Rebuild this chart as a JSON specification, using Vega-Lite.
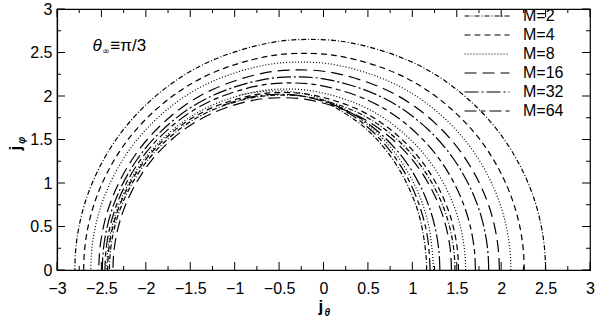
{
 "$schema": "https://vega.github.io/schema/vega-lite/v6.json",
 "width": 533, "height": 261,
 "autosize": {"type": "none"},
 "padding": {"left": 57, "top": 9, "right": 12, "bottom": 52},
 "background": "white",
 "config": {
  "view": {"stroke": "black", "strokeWidth": 1.2},
  "font": "Liberation Sans",
  "axis": {"grid": false, "domainColor": "black", "domainWidth": 1.2, "labelColor": "black", "labelFontSize": 16, "labelFont": "Liberation Sans", "labelFlush": false}
 },
 "datasets": {
  "xt": [{"v":-3},{"v":-2.75},{"v":-2.5},{"v":-2.25},{"v":-2},{"v":-1.75},{"v":-1.5},{"v":-1.25},{"v":-1},{"v":-0.75},{"v":-0.5},{"v":-0.25},{"v":0},{"v":0.25},{"v":0.5},{"v":0.75},{"v":1},{"v":1.25},{"v":1.5},{"v":1.75},{"v":2},{"v":2.25},{"v":2.5},{"v":2.75},{"v":3}],
  "yt": [{"v":0},{"v":0.25},{"v":0.5},{"v":0.75},{"v":1},{"v":1.25},{"v":1.5},{"v":1.75},{"v":2},{"v":2.25},{"v":2.5},{"v":2.75},{"v":3}],
  "curves": [
   {"c":"O1","M":"M=2","i":0,"x":2.5,"y":0},{"c":"O1","M":"M=2","i":1,"x":2.474,"y":0.369},{"c":"O1","M":"M=2","i":2,"x":2.34,"y":0.906},{"c":"O1","M":"M=2","i":3,"x":2.021,"y":1.52},{"c":"O1","M":"M=2","i":4,"x":1.553,"y":2.03},{"c":"O1","M":"M=2","i":5,"x":0.97,"y":2.402},{"c":"O1","M":"M=2","i":6,"x":0.31,"y":2.61},{"c":"O1","M":"M=2","i":7,"x":-0.15,"y":2.65},{"c":"O1","M":"M=2","i":8,"x":-0.61,"y":2.61},{"c":"O1","M":"M=2","i":9,"x":-1.27,"y":2.402},{"c":"O1","M":"M=2","i":10,"x":-1.853,"y":2.03},{"c":"O1","M":"M=2","i":11,"x":-2.321,"y":1.52},{"c":"O1","M":"M=2","i":12,"x":-2.64,"y":0.906},{"c":"O1","M":"M=2","i":13,"x":-2.774,"y":0.369},{"c":"O1","M":"M=2","i":14,"x":-2.8,"y":0},
   {"c":"O2","M":"M=4","i":0,"x":2.26,"y":0},{"c":"O2","M":"M=4","i":1,"x":2.236,"y":0.347},{"c":"O2","M":"M=4","i":2,"x":2.11,"y":0.852},{"c":"O2","M":"M=4","i":3,"x":1.812,"y":1.428},{"c":"O2","M":"M=4","i":4,"x":1.374,"y":1.907},{"c":"O2","M":"M=4","i":5,"x":0.828,"y":2.257},{"c":"O2","M":"M=4","i":6,"x":0.211,"y":2.452},{"c":"O2","M":"M=4","i":7,"x":-0.22,"y":2.49},{"c":"O2","M":"M=4","i":8,"x":-0.651,"y":2.452},{"c":"O2","M":"M=4","i":9,"x":-1.268,"y":2.257},{"c":"O2","M":"M=4","i":10,"x":-1.814,"y":1.907},{"c":"O2","M":"M=4","i":11,"x":-2.252,"y":1.428},{"c":"O2","M":"M=4","i":12,"x":-2.55,"y":0.852},{"c":"O2","M":"M=4","i":13,"x":-2.676,"y":0.347},{"c":"O2","M":"M=4","i":14,"x":-2.7,"y":0},
   {"c":"O3","M":"M=8","i":0,"x":2.11,"y":0},{"c":"O3","M":"M=8","i":1,"x":2.087,"y":0.333},{"c":"O3","M":"M=8","i":2,"x":1.967,"y":0.817},{"c":"O3","M":"M=8","i":3,"x":1.682,"y":1.371},{"c":"O3","M":"M=8","i":4,"x":1.265,"y":1.831},{"c":"O3","M":"M=8","i":5,"x":0.744,"y":2.166},{"c":"O3","M":"M=8","i":6,"x":0.156,"y":2.354},{"c":"O3","M":"M=8","i":7,"x":-0.255,"y":2.39},{"c":"O3","M":"M=8","i":8,"x":-0.666,"y":2.354},{"c":"O3","M":"M=8","i":9,"x":-1.254,"y":2.166},{"c":"O3","M":"M=8","i":10,"x":-1.775,"y":1.831},{"c":"O3","M":"M=8","i":11,"x":-2.192,"y":1.371},{"c":"O3","M":"M=8","i":12,"x":-2.477,"y":0.817},{"c":"O3","M":"M=8","i":13,"x":-2.597,"y":0.333},{"c":"O3","M":"M=8","i":14,"x":-2.62,"y":0},
   {"c":"O4","M":"M=16","i":0,"x":1.98,"y":0},{"c":"O4","M":"M=16","i":1,"x":1.958,"y":0.32},{"c":"O4","M":"M=16","i":2,"x":1.844,"y":0.787},{"c":"O4","M":"M=16","i":3,"x":1.572,"y":1.319},{"c":"O4","M":"M=16","i":4,"x":1.175,"y":1.762},{"c":"O4","M":"M=16","i":5,"x":0.678,"y":2.084},{"c":"O4","M":"M=16","i":6,"x":0.116,"y":2.265},{"c":"O4","M":"M=16","i":7,"x":-0.275,"y":2.3},{"c":"O4","M":"M=16","i":8,"x":-0.666,"y":2.265},{"c":"O4","M":"M=16","i":9,"x":-1.228,"y":2.084},{"c":"O4","M":"M=16","i":10,"x":-1.725,"y":1.762},{"c":"O4","M":"M=16","i":11,"x":-2.122,"y":1.319},{"c":"O4","M":"M=16","i":12,"x":-2.394,"y":0.787},{"c":"O4","M":"M=16","i":13,"x":-2.508,"y":0.32},{"c":"O4","M":"M=16","i":14,"x":-2.53,"y":0},
   {"c":"O5","M":"M=32","i":0,"x":1.86,"y":0},{"c":"O5","M":"M=32","i":1,"x":1.839,"y":0.309},{"c":"O5","M":"M=32","i":2,"x":1.729,"y":0.759},{"c":"O5","M":"M=32","i":3,"x":1.467,"y":1.273},{"c":"O5","M":"M=32","i":4,"x":1.083,"y":1.701},{"c":"O5","M":"M=32","i":5,"x":0.604,"y":2.012},{"c":"O5","M":"M=32","i":6,"x":0.063,"y":2.186},{"c":"O5","M":"M=32","i":7,"x":-0.315,"y":2.22},{"c":"O5","M":"M=32","i":8,"x":-0.693,"y":2.186},{"c":"O5","M":"M=32","i":9,"x":-1.234,"y":2.012},{"c":"O5","M":"M=32","i":10,"x":-1.713,"y":1.701},{"c":"O5","M":"M=32","i":11,"x":-2.097,"y":1.273},{"c":"O5","M":"M=32","i":12,"x":-2.359,"y":0.759},{"c":"O5","M":"M=32","i":13,"x":-2.469,"y":0.309},{"c":"O5","M":"M=32","i":14,"x":-2.49,"y":0},
   {"c":"O6","M":"M=64","i":0,"x":1.71,"y":0},{"c":"O6","M":"M=64","i":1,"x":1.69,"y":0.299},{"c":"O6","M":"M=64","i":2,"x":1.584,"y":0.735},{"c":"O6","M":"M=64","i":3,"x":1.333,"y":1.233},{"c":"O6","M":"M=64","i":4,"x":0.965,"y":1.647},{"c":"O6","M":"M=64","i":5,"x":0.506,"y":1.949},{"c":"O6","M":"M=64","i":6,"x":-0.013,"y":2.117},{"c":"O6","M":"M=64","i":7,"x":-0.375,"y":2.15},{"c":"O6","M":"M=64","i":8,"x":-0.737,"y":2.117},{"c":"O6","M":"M=64","i":9,"x":-1.256,"y":1.949},{"c":"O6","M":"M=64","i":10,"x":-1.715,"y":1.647},{"c":"O6","M":"M=64","i":11,"x":-2.083,"y":1.233},{"c":"O6","M":"M=64","i":12,"x":-2.334,"y":0.735},{"c":"O6","M":"M=64","i":13,"x":-2.44,"y":0.299},{"c":"O6","M":"M=64","i":14,"x":-2.46,"y":0},
   {"c":"I1","M":"M=8","i":0,"x":1.6,"y":0},{"c":"I1","M":"M=8","i":1,"x":1.58,"y":0.29},{"c":"I1","M":"M=8","i":2,"x":1.478,"y":0.711},{"c":"I1","M":"M=8","i":3,"x":1.235,"y":1.193},{"c":"I1","M":"M=8","i":4,"x":0.878,"y":1.593},{"c":"I1","M":"M=8","i":5,"x":0.434,"y":1.885},{"c":"I1","M":"M=8","i":6,"x":-0.069,"y":2.048},{"c":"I1","M":"M=8","i":7,"x":-0.42,"y":2.08},{"c":"I1","M":"M=8","i":8,"x":-0.771,"y":2.048},{"c":"I1","M":"M=8","i":9,"x":-1.274,"y":1.885},{"c":"I1","M":"M=8","i":10,"x":-1.718,"y":1.593},{"c":"I1","M":"M=8","i":11,"x":-2.075,"y":1.193},{"c":"I1","M":"M=8","i":12,"x":-2.318,"y":0.711},{"c":"I1","M":"M=8","i":13,"x":-2.42,"y":0.29},{"c":"I1","M":"M=8","i":14,"x":-2.44,"y":0},
   {"c":"I2","M":"M=4","i":0,"x":1.52,"y":0},{"c":"I2","M":"M=4","i":1,"x":1.501,"y":0.284},{"c":"I2","M":"M=4","i":2,"x":1.401,"y":0.698},{"c":"I2","M":"M=4","i":3,"x":1.163,"y":1.17},{"c":"I2","M":"M=4","i":4,"x":0.815,"y":1.563},{"c":"I2","M":"M=4","i":5,"x":0.38,"y":1.849},{"c":"I2","M":"M=4","i":6,"x":-0.112,"y":2.009},{"c":"I2","M":"M=4","i":7,"x":-0.455,"y":2.04},{"c":"I2","M":"M=4","i":8,"x":-0.798,"y":2.009},{"c":"I2","M":"M=4","i":9,"x":-1.29,"y":1.849},{"c":"I2","M":"M=4","i":10,"x":-1.725,"y":1.563},{"c":"I2","M":"M=4","i":11,"x":-2.073,"y":1.17},{"c":"I2","M":"M=4","i":12,"x":-2.311,"y":0.698},{"c":"I2","M":"M=4","i":13,"x":-2.411,"y":0.284},{"c":"I2","M":"M=4","i":14,"x":-2.43,"y":0},
   {"c":"I3","M":"M=2","i":0,"x":1.48,"y":0},{"c":"I3","M":"M=2","i":1,"x":1.461,"y":0.28},{"c":"I3","M":"M=2","i":2,"x":1.363,"y":0.687},{"c":"I3","M":"M=2","i":3,"x":1.128,"y":1.153},{"c":"I3","M":"M=2","i":4,"x":0.785,"y":1.54},{"c":"I3","M":"M=2","i":5,"x":0.357,"y":1.822},{"c":"I3","M":"M=2","i":6,"x":-0.127,"y":1.979},{"c":"I3","M":"M=2","i":7,"x":-0.465,"y":2.01},{"c":"I3","M":"M=2","i":8,"x":-0.803,"y":1.979},{"c":"I3","M":"M=2","i":9,"x":-1.287,"y":1.822},{"c":"I3","M":"M=2","i":10,"x":-1.715,"y":1.54},{"c":"I3","M":"M=2","i":11,"x":-2.058,"y":1.153},{"c":"I3","M":"M=2","i":12,"x":-2.293,"y":0.687},{"c":"I3","M":"M=2","i":13,"x":-2.391,"y":0.28},{"c":"I3","M":"M=2","i":14,"x":-2.41,"y":0},
   {"c":"I4","M":"M=16","i":0,"x":1.44,"y":0},{"c":"I4","M":"M=16","i":1,"x":1.422,"y":0.276},{"c":"I4","M":"M=16","i":2,"x":1.325,"y":0.677},{"c":"I4","M":"M=16","i":3,"x":1.096,"y":1.136},{"c":"I4","M":"M=16","i":4,"x":0.76,"y":1.517},{"c":"I4","M":"M=16","i":5,"x":0.34,"y":1.794},{"c":"I4","M":"M=16","i":6,"x":-0.134,"y":1.95},{"c":"I4","M":"M=16","i":7,"x":-0.465,"y":1.98},{"c":"I4","M":"M=16","i":8,"x":-0.796,"y":1.95},{"c":"I4","M":"M=16","i":9,"x":-1.27,"y":1.794},{"c":"I4","M":"M=16","i":10,"x":-1.69,"y":1.517},{"c":"I4","M":"M=16","i":11,"x":-2.026,"y":1.136},{"c":"I4","M":"M=16","i":12,"x":-2.255,"y":0.677},{"c":"I4","M":"M=16","i":13,"x":-2.352,"y":0.276},{"c":"I4","M":"M=16","i":14,"x":-2.37,"y":0},
   {"c":"P1","M":"M=32","i":0,"x":1.31,"y":0},{"c":"P1","M":"M=32","i":1,"x":1.292,"y":0.281},{"c":"P1","M":"M=32","i":2,"x":1.201,"y":0.691},{"c":"P1","M":"M=32","i":3,"x":0.983,"y":1.159},{"c":"P1","M":"M=32","i":4,"x":0.663,"y":1.547},{"c":"P1","M":"M=32","i":5,"x":0.265,"y":1.831},{"c":"P1","M":"M=32","i":6,"x":-0.186,"y":1.989},{"c":"P1","M":"M=32","i":7,"x":-0.5,"y":2.02},{"c":"P1","M":"M=32","i":8,"x":-0.814,"y":1.989},{"c":"P1","M":"M=32","i":9,"x":-1.14,"y":1.89},
   {"c":"P2","M":"M=8","i":0,"x":1.24,"y":0},{"c":"P2","M":"M=8","i":1,"x":1.179,"y":0.533},{"c":"P2","M":"M=8","i":2,"x":1.0,"y":1.03},{"c":"P2","M":"M=8","i":3,"x":0.716,"y":1.457},{"c":"P2","M":"M=8","i":4,"x":0.345,"y":1.784},{"c":"P2","M":"M=8","i":5,"x":-0.087,"y":1.99},{"c":"P2","M":"M=8","i":6,"x":-0.55,"y":2.06},{"c":"P2","M":"M=8","i":7,"x":-0.95,"y":2.008},
   {"c":"P3","M":"M=64","i":0,"x":1.2,"y":0},{"c":"P3","M":"M=64","i":1,"x":1.173,"y":0.359},{"c":"P3","M":"M=64","i":2,"x":1.091,"y":0.708},{"c":"P3","M":"M=64","i":3,"x":0.959,"y":1.035},{"c":"P3","M":"M=64","i":4,"x":0.779,"y":1.331},{"c":"P3","M":"M=64","i":5,"x":0.557,"y":1.586},{"c":"P3","M":"M=64","i":6,"x":0.3,"y":1.793},{"c":"P3","M":"M=64","i":7,"x":0.04,"y":1.934},
   {"c":"P4","M":"M=2","i":0,"x":1.16,"y":0},{"c":"P4","M":"M=2","i":1,"x":1.153,"y":0.18},{"c":"P4","M":"M=2","i":2,"x":1.099,"y":0.536},{"c":"P4","M":"M=2","i":3,"x":0.991,"y":0.875},{"c":"P4","M":"M=2","i":4,"x":0.834,"y":1.187},{"c":"P4","M":"M=2","i":5,"x":0.633,"y":1.464},{"c":"P4","M":"M=2","i":6,"x":0.392,"y":1.696},{"c":"P4","M":"M=2","i":7,"x":0.1,"y":1.887}
  ]
 },
 "layer": [
  {
   "data": {"name": "curves"},
   "mark": {"type": "line", "interpolate": "natural", "strokeWidth": 1.2, "color": "black"},
   "encoding": {
    "x": {"field": "x", "type": "quantitative", "scale": {"domain": [-3, 3], "nice": false},
     "axis": {"orient": "bottom", "title": null, "format": "~g", "ticks": false, "tickSize": 0,
      "values": [-3,-2.5,-2,-1.5,-1,-0.5,0,0.5,1,1.5,2,2.5,3],
      "labelPadding": 10, "labelBaseline": "top"}},
    "y": {"field": "y", "type": "quantitative", "scale": {"domain": [0, 3], "nice": false},
     "axis": {"orient": "left", "title": null, "format": "~g", "ticks": false, "tickSize": 0,
      "values": [0,0.5,1,1.5,2,2.5,3],
      "labelPadding": 5}},
    "detail": {"field": "c", "type": "nominal"},
    "order": {"field": "i", "type": "quantitative"},
    "strokeDash": {"field": "M", "type": "nominal",
     "scale": {"domain": ["M=2","M=4","M=8","M=16","M=32","M=64"],
      "range": [[5,2,1,2],[6,4],[1,2],[12,6],[14,3,2,3],[12,4,5,4]]},
     "legend": {"orient": "none", "legendX": 422, "legendY": -1, "title": null,
      "symbolType": "M-4.5,0H4.5", "symbolSize": 100, "symbolStrokeWidth": 1.2, "symbolStrokeColor": "black",
      "labelFontSize": 16, "labelFont": "Liberation Sans", "labelColor": "black", "labelOffset": 28, "rowPadding": 3, "padding": 0}}
   }
  },
  {
   "data": {"name": "xt"},
   "transform": [{"filter": "abs(datum.v*2 - round(datum.v*2)) < 0.001"}],
   "mark": {"type": "tick", "orient": "vertical", "size": 8, "thickness": 1, "yOffset": -4, "color": "black", "opacity": 1},
   "encoding": {
    "x": {"field": "v", "type": "quantitative", "title": null, "scale": {"domain": [-3, 3], "nice": false}},
    "y": {"datum": 0, "type": "quantitative", "title": null, "scale": {"domain": [0, 3], "nice": false}}
   }
  },
  {
   "data": {"name": "xt"},
   "transform": [{"filter": "abs(datum.v*2 - round(datum.v*2)) >= 0.001"}],
   "mark": {"type": "tick", "orient": "vertical", "size": 4, "thickness": 1, "yOffset": -2, "color": "black", "opacity": 1},
   "encoding": {
    "x": {"field": "v", "type": "quantitative", "title": null, "scale": {"domain": [-3, 3], "nice": false}},
    "y": {"datum": 0, "type": "quantitative", "title": null, "scale": {"domain": [0, 3], "nice": false}}
   }
  },
  {
   "data": {"name": "xt"},
   "transform": [{"filter": "abs(datum.v*2 - round(datum.v*2)) < 0.001"}],
   "mark": {"type": "tick", "orient": "vertical", "size": 8, "thickness": 1, "yOffset": 4, "color": "black", "opacity": 1},
   "encoding": {
    "x": {"field": "v", "type": "quantitative", "title": null, "scale": {"domain": [-3, 3], "nice": false}},
    "y": {"datum": 3, "type": "quantitative", "title": null, "scale": {"domain": [0, 3], "nice": false}}
   }
  },
  {
   "data": {"name": "xt"},
   "transform": [{"filter": "abs(datum.v*2 - round(datum.v*2)) >= 0.001"}],
   "mark": {"type": "tick", "orient": "vertical", "size": 4, "thickness": 1, "yOffset": 2, "color": "black", "opacity": 1},
   "encoding": {
    "x": {"field": "v", "type": "quantitative", "title": null, "scale": {"domain": [-3, 3], "nice": false}},
    "y": {"datum": 3, "type": "quantitative", "title": null, "scale": {"domain": [0, 3], "nice": false}}
   }
  },
  {
   "data": {"name": "yt"},
   "transform": [{"filter": "abs(datum.v*2 - round(datum.v*2)) < 0.001"}],
   "mark": {"type": "tick", "orient": "horizontal", "size": 8, "thickness": 1, "xOffset": 4, "color": "black", "opacity": 1},
   "encoding": {
    "y": {"field": "v", "type": "quantitative", "title": null, "scale": {"domain": [0, 3], "nice": false}},
    "x": {"datum": -3, "type": "quantitative", "title": null, "scale": {"domain": [-3, 3], "nice": false}}
   }
  },
  {
   "data": {"name": "yt"},
   "transform": [{"filter": "abs(datum.v*2 - round(datum.v*2)) >= 0.001"}],
   "mark": {"type": "tick", "orient": "horizontal", "size": 4, "thickness": 1, "xOffset": 2, "color": "black", "opacity": 1},
   "encoding": {
    "y": {"field": "v", "type": "quantitative", "title": null, "scale": {"domain": [0, 3], "nice": false}},
    "x": {"datum": -3, "type": "quantitative", "title": null, "scale": {"domain": [-3, 3], "nice": false}}
   }
  },
  {
   "data": {"name": "yt"},
   "transform": [{"filter": "abs(datum.v*2 - round(datum.v*2)) < 0.001"}],
   "mark": {"type": "tick", "orient": "horizontal", "size": 8, "thickness": 1, "xOffset": -4, "color": "black", "opacity": 1},
   "encoding": {
    "y": {"field": "v", "type": "quantitative", "title": null, "scale": {"domain": [0, 3], "nice": false}},
    "x": {"datum": 3, "type": "quantitative", "title": null, "scale": {"domain": [-3, 3], "nice": false}}
   }
  },
  {
   "data": {"name": "yt"},
   "transform": [{"filter": "abs(datum.v*2 - round(datum.v*2)) >= 0.001"}],
   "mark": {"type": "tick", "orient": "horizontal", "size": 4, "thickness": 1, "xOffset": -2, "color": "black", "opacity": 1},
   "encoding": {
    "y": {"field": "v", "type": "quantitative", "title": null, "scale": {"domain": [0, 3], "nice": false}},
    "x": {"datum": 3, "type": "quantitative", "title": null, "scale": {"domain": [-3, 3], "nice": false}}
   }
  },
  {
   "data": {"values": [{}]},
   "mark": {"type": "text", "text": "θ", "fontSize": 17, "fontStyle": "italic", "align": "left", "baseline": "alphabetic", "font": "Liberation Sans"},
   "encoding": {
    "x": {"datum": -2.6, "type": "quantitative", "title": null, "scale": {"domain": [-3, 3], "nice": false}},
    "y": {"datum": 2.517, "type": "quantitative", "title": null, "scale": {"domain": [0, 3], "nice": false}}
   }
  },
  {
   "data": {"values": [{}]},
   "mark": {"type": "text", "text": "∞", "fontSize": 9, "align": "left", "baseline": "alphabetic", "font": "DejaVu Sans"},
   "encoding": {
    "x": {"datum": -2.49, "type": "quantitative", "title": null, "scale": {"domain": [-3, 3], "nice": false}},
    "y": {"datum": 2.48, "type": "quantitative", "title": null, "scale": {"domain": [0, 3], "nice": false}}
   }
  },
  {
   "data": {"values": [{}]},
   "mark": {"type": "text", "text": "≡π/3", "fontSize": 17, "align": "left", "baseline": "alphabetic", "font": "Liberation Sans"},
   "encoding": {
    "x": {"datum": -2.4, "type": "quantitative", "title": null, "scale": {"domain": [-3, 3], "nice": false}},
    "y": {"datum": 2.517, "type": "quantitative", "title": null, "scale": {"domain": [0, 3], "nice": false}}
   }
  },
  {
   "data": {"values": [{}]},
   "mark": {"type": "text", "text": "j", "fontSize": 17, "fontWeight": "bold", "align": "center", "baseline": "alphabetic", "font": "Liberation Sans"},
   "encoding": {
    "x": {"datum": -0.03, "type": "quantitative", "title": null, "scale": {"domain": [-3, 3], "nice": false}},
    "y": {"datum": -0.48, "type": "quantitative", "title": null, "scale": {"domain": [0, 3], "nice": false}}
   }
  },
  {
   "data": {"values": [{}]},
   "mark": {"type": "text", "text": "θ", "fontSize": 10, "fontWeight": "bold", "fontStyle": "italic", "align": "left", "baseline": "alphabetic", "font": "Liberation Sans"},
   "encoding": {
    "x": {"datum": 0.01, "type": "quantitative", "title": null, "scale": {"domain": [-3, 3], "nice": false}},
    "y": {"datum": -0.53, "type": "quantitative", "title": null, "scale": {"domain": [0, 3], "nice": false}}
   }
  },
  {
   "data": {"values": [{}]},
   "mark": {"type": "text", "text": "j", "fontSize": 17, "fontWeight": "bold", "angle": 270, "align": "center", "baseline": "alphabetic", "font": "Liberation Sans"},
   "encoding": {
    "x": {"datum": -3.405, "type": "quantitative", "title": null, "scale": {"domain": [-3, 3], "nice": false}},
    "y": {"datum": 1.4, "type": "quantitative", "title": null, "scale": {"domain": [0, 3], "nice": false}}
   }
  },
  {
   "data": {"values": [{}]},
   "mark": {"type": "text", "text": "φ", "fontSize": 10, "fontWeight": "bold", "fontStyle": "italic", "angle": 270, "align": "left", "baseline": "alphabetic", "font": "Liberation Sans"},
   "encoding": {
    "x": {"datum": -3.36, "type": "quantitative", "title": null, "scale": {"domain": [-3, 3], "nice": false}},
    "y": {"datum": 1.45, "type": "quantitative", "title": null, "scale": {"domain": [0, 3], "nice": false}}
   }
  }
 ]
}
